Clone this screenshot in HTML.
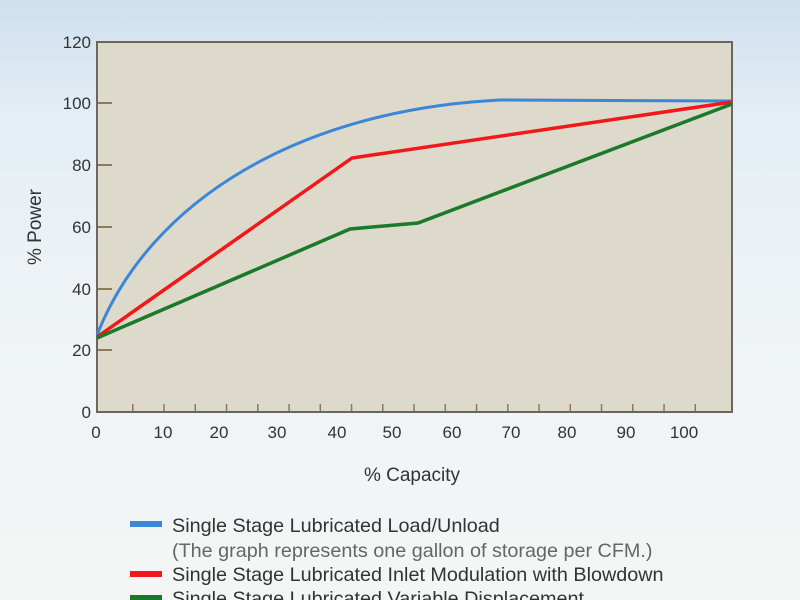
<!DOCTYPE html>
<html><head><style>
body{margin:0;width:800px;height:600px;overflow:hidden;background:linear-gradient(180deg,#cfe0ee 0%,#e4eef5 20%,#eef3f6 50%,#f4f6f5 100%);font-family:"Liberation Sans",sans-serif;}
</style></head><body>
<svg width="800" height="600" style="position:absolute;left:0;top:0">
<rect x="97" y="42" width="635" height="370" fill="#ddd9cb" stroke="#6b6760" stroke-width="2"/>
<g stroke="#8a7a5a" stroke-width="2">
<line x1="98" y1="103" x2="112" y2="103"/><line x1="98" y1="165" x2="112" y2="165"/><line x1="98" y1="227" x2="112" y2="227"/><line x1="98" y1="289" x2="112" y2="289"/><line x1="98" y1="350" x2="112" y2="350"/>
</g>
<g stroke="#8a7a5a" stroke-width="1.5" id="xt"></g>
<g font-size="17" fill="#333" text-anchor="end">
<text x="91" y="48">120</text><text x="91" y="109">100</text><text x="91" y="171">80</text><text x="91" y="233">60</text><text x="91" y="295">40</text><text x="91" y="356">20</text><text x="91" y="418">0</text>
</g>
<g font-size="17" fill="#333" text-anchor="middle">
<text x="96" y="438">0</text><text x="163" y="438">10</text><text x="219" y="438">20</text><text x="277" y="438">30</text><text x="337" y="438">40</text><text x="392" y="438">50</text><text x="452" y="438">60</text><text x="511" y="438">70</text><text x="567" y="438">80</text><text x="626" y="438">90</text><text x="684" y="438">100</text>
</g>
<text x="412" y="481" font-size="19" fill="#333" text-anchor="middle">% Capacity</text>
<text transform="translate(41,227) rotate(-90)" font-size="19" fill="#333" text-anchor="middle">% Power</text>
<path d="M97,335 C150,200 300,110 500,100 L732,101" fill="none" stroke="#3a86d8" stroke-width="3"/>
<polyline points="97,337 352,158 732,102" fill="none" stroke="#f01818" stroke-width="3.5"/>
<polyline points="97,338 350,229 418,223 732,104" fill="none" stroke="#1a7a2a" stroke-width="3.5"/>
<line x1="130" y1="524" x2="162" y2="524" stroke="#3a86d8" stroke-width="6"/>
<line x1="130" y1="574" x2="162" y2="574" stroke="#f01818" stroke-width="6"/>
<line x1="130" y1="598" x2="162" y2="598" stroke="#1a7a2a" stroke-width="6"/>
<g font-size="19.8" fill="#333">
<text x="172" y="532">Single Stage Lubricated Load/Unload</text>
<text x="172" y="557" fill="#666">(The graph represents one gallon of storage per CFM.)</text>
<text x="172" y="581">Single Stage Lubricated Inlet Modulation with Blowdown</text>
<text x="172" y="605">Single Stage Lubricated Variable Displacement</text>
</g>
</svg>
<script>
var g=document.getElementById('xt'),s='';
for(var i=0;i<19;i++){var x=132.8+i*31.25;s+='<line x1="'+x+'" y1="404" x2="'+x+'" y2="411"/>';}
g.innerHTML=s;
</script>
</body></html>
